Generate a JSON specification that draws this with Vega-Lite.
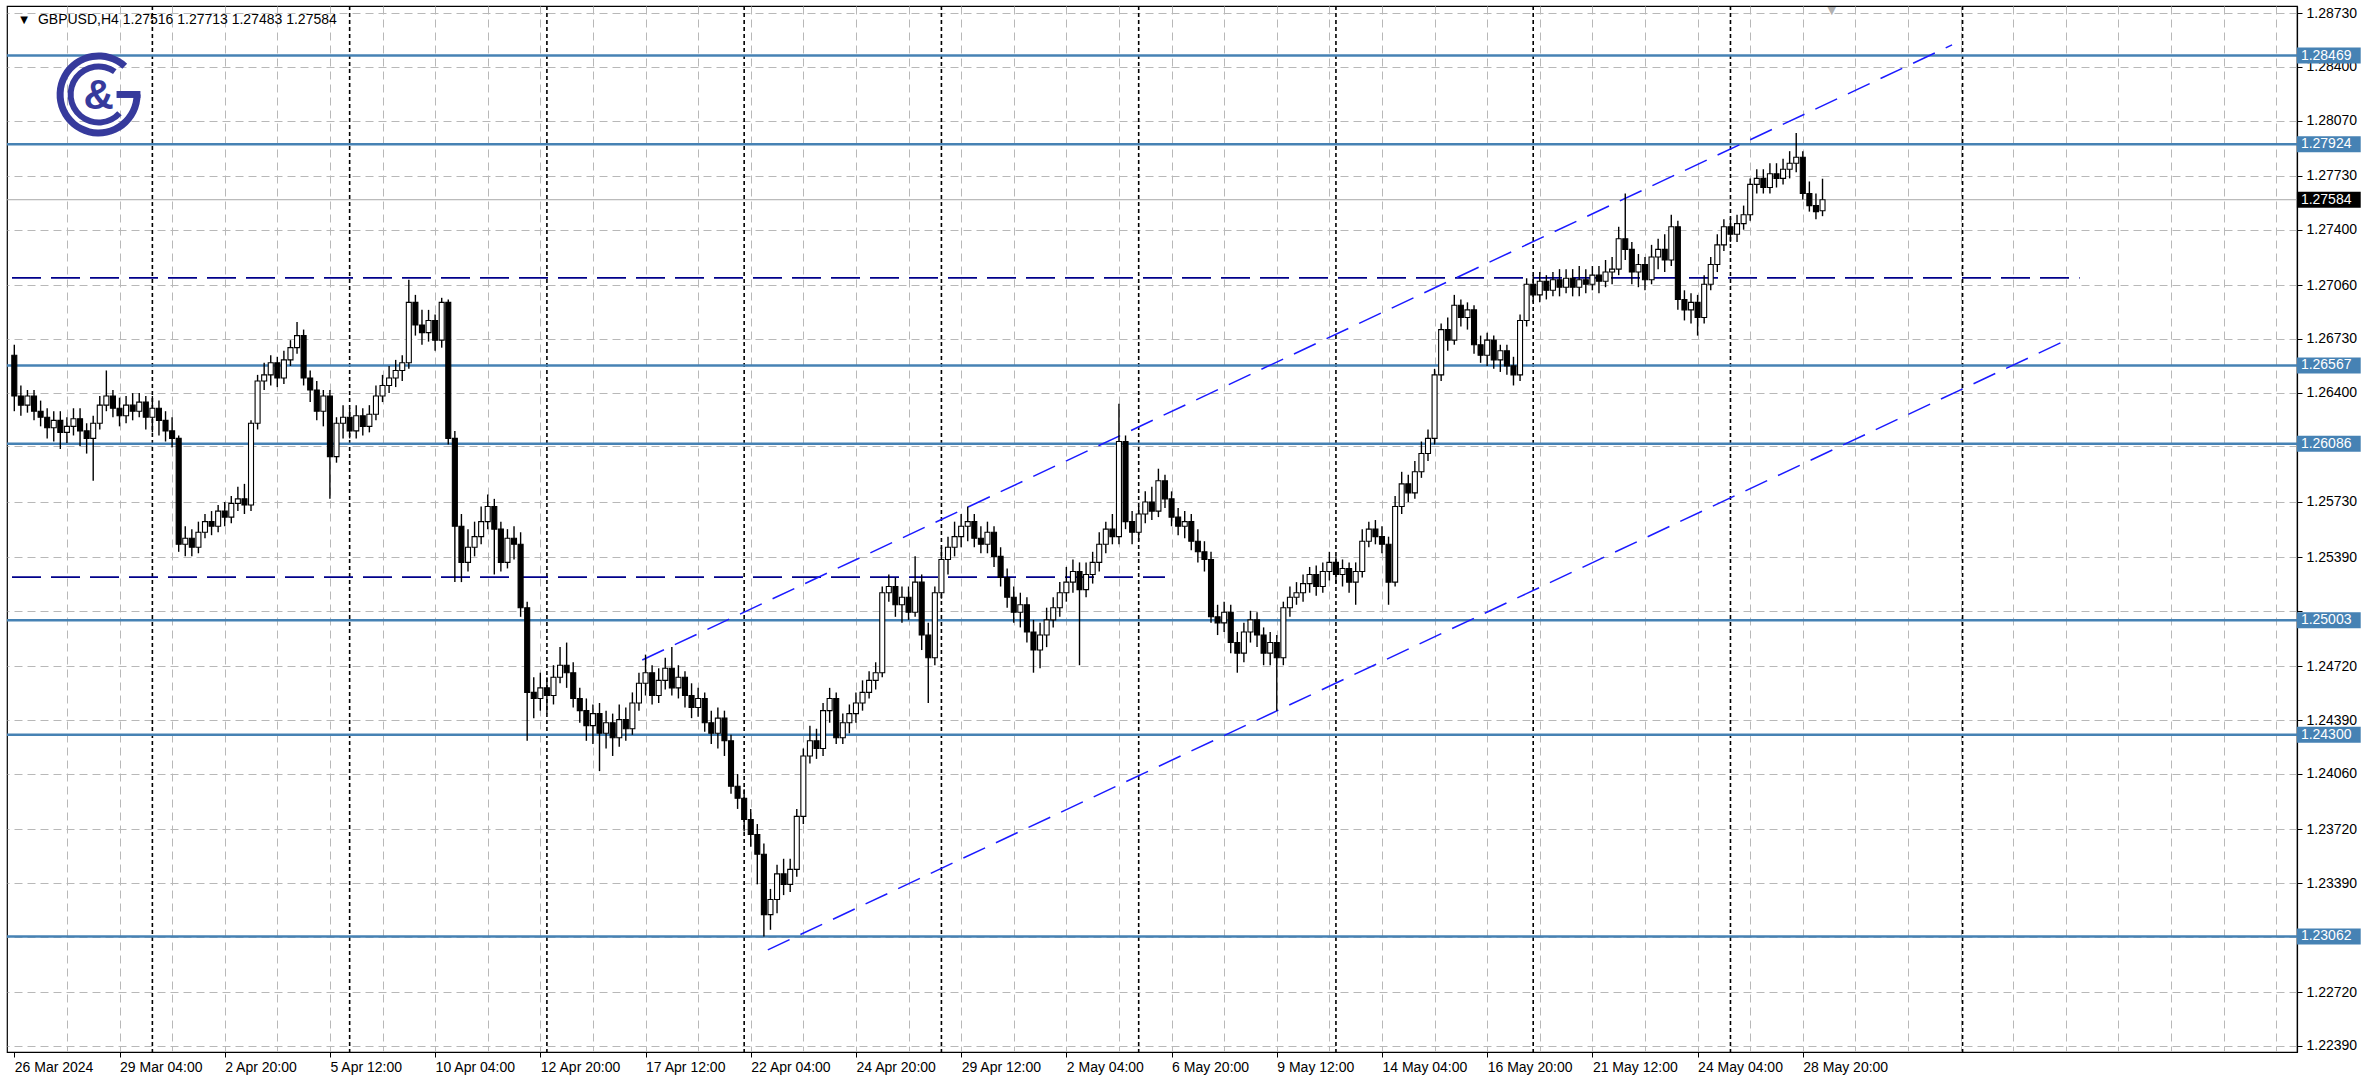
{
"$schema": "https://vega.github.io/schema/vega-lite/v6.json",
"width": 2290,
"height": 1046,
"autosize": "none",
"padding": {"left": 7, "top": 6, "right": 75, "bottom": 37},
"background": "white",
"config": {"view": {"stroke": "#000000", "strokeWidth": 1.2}, "font": "Liberation Sans"},
"datasets": {
"candles": [
{"i":0,"o":1.26629,"h":1.26694,"l":1.26286,"c":1.26379},
{"i":1,"o":1.26379,"h":1.26444,"l":1.26258,"c":1.26323},
{"i":2,"o":1.26323,"h":1.26416,"l":1.26277,"c":1.26379},
{"i":3,"o":1.26379,"h":1.26416,"l":1.2623,"c":1.26286},
{"i":4,"o":1.26286,"h":1.26351,"l":1.26193,"c":1.26249},
{"i":5,"o":1.26249,"h":1.26304,"l":1.26119,"c":1.26184},
{"i":6,"o":1.26184,"h":1.26286,"l":1.261,"c":1.2623},
{"i":7,"o":1.2623,"h":1.26286,"l":1.26054,"c":1.26156},
{"i":8,"o":1.26156,"h":1.26249,"l":1.26091,"c":1.26193},
{"i":9,"o":1.26193,"h":1.26304,"l":1.26137,"c":1.2624},
{"i":10,"o":1.2624,"h":1.26304,"l":1.26072,"c":1.26165},
{"i":11,"o":1.26165,"h":1.26212,"l":1.26026,"c":1.26119},
{"i":12,"o":1.26119,"h":1.26258,"l":1.25859,"c":1.26212},
{"i":13,"o":1.26212,"h":1.26379,"l":1.26174,"c":1.26323},
{"i":14,"o":1.26323,"h":1.26536,"l":1.26286,"c":1.26379},
{"i":15,"o":1.26379,"h":1.26416,"l":1.26249,"c":1.26304},
{"i":16,"o":1.26304,"h":1.26369,"l":1.26193,"c":1.26258},
{"i":17,"o":1.26258,"h":1.26379,"l":1.26212,"c":1.26323},
{"i":18,"o":1.26323,"h":1.26397,"l":1.2623,"c":1.26286},
{"i":19,"o":1.26286,"h":1.26397,"l":1.26249,"c":1.26342},
{"i":20,"o":1.26342,"h":1.26379,"l":1.26174,"c":1.26249},
{"i":21,"o":1.26249,"h":1.26379,"l":1.26156,"c":1.26304},
{"i":22,"o":1.26304,"h":1.26351,"l":1.26137,"c":1.2623},
{"i":23,"o":1.2623,"h":1.26286,"l":1.261,"c":1.26165},
{"i":24,"o":1.26165,"h":1.26249,"l":1.26063,"c":1.26119},
{"i":25,"o":1.26119,"h":1.26137,"l":1.25423,"c":1.25469},
{"i":26,"o":1.25469,"h":1.2558,"l":1.25395,"c":1.25506},
{"i":27,"o":1.25506,"h":1.25562,"l":1.25395,"c":1.25451},
{"i":28,"o":1.25451,"h":1.25608,"l":1.25414,"c":1.25543},
{"i":29,"o":1.25543,"h":1.25655,"l":1.25506,"c":1.25608},
{"i":30,"o":1.25608,"h":1.25673,"l":1.25525,"c":1.2558},
{"i":31,"o":1.2558,"h":1.2571,"l":1.25543,"c":1.25673},
{"i":32,"o":1.25673,"h":1.25729,"l":1.2558,"c":1.25636},
{"i":33,"o":1.25636,"h":1.25766,"l":1.25599,"c":1.2572},
{"i":34,"o":1.2572,"h":1.25822,"l":1.25673,"c":1.25748},
{"i":35,"o":1.25748,"h":1.2584,"l":1.25655,"c":1.2571},
{"i":36,"o":1.2571,"h":1.2623,"l":1.25673,"c":1.26212},
{"i":37,"o":1.26212,"h":1.26509,"l":1.26174,"c":1.26471},
{"i":38,"o":1.26471,"h":1.26583,"l":1.26416,"c":1.26509},
{"i":39,"o":1.26509,"h":1.26629,"l":1.26444,"c":1.26583},
{"i":40,"o":1.26583,"h":1.2662,"l":1.26434,"c":1.2649},
{"i":41,"o":1.2649,"h":1.26657,"l":1.26453,"c":1.26601},
{"i":42,"o":1.26601,"h":1.26722,"l":1.26564,"c":1.26676},
{"i":43,"o":1.26676,"h":1.26833,"l":1.26639,"c":1.2675},
{"i":44,"o":1.2675,"h":1.26787,"l":1.26444,"c":1.2649},
{"i":45,"o":1.2649,"h":1.26536,"l":1.26342,"c":1.26416},
{"i":46,"o":1.26416,"h":1.26471,"l":1.2623,"c":1.26286},
{"i":47,"o":1.26286,"h":1.26416,"l":1.26193,"c":1.26379},
{"i":48,"o":1.26379,"h":1.26416,"l":1.25748,"c":1.26007},
{"i":49,"o":1.26007,"h":1.26249,"l":1.2597,"c":1.26212},
{"i":50,"o":1.26212,"h":1.26323,"l":1.26119,"c":1.26249},
{"i":51,"o":1.26249,"h":1.26304,"l":1.26119,"c":1.26165},
{"i":52,"o":1.26165,"h":1.26323,"l":1.26119,"c":1.26258},
{"i":53,"o":1.26258,"h":1.26304,"l":1.26137,"c":1.26193},
{"i":54,"o":1.26193,"h":1.26323,"l":1.26156,"c":1.26267},
{"i":55,"o":1.26267,"h":1.26444,"l":1.2623,"c":1.26379},
{"i":56,"o":1.26379,"h":1.26509,"l":1.26342,"c":1.26444},
{"i":57,"o":1.26444,"h":1.26564,"l":1.26397,"c":1.2649},
{"i":58,"o":1.2649,"h":1.26601,"l":1.26434,"c":1.26536},
{"i":59,"o":1.26536,"h":1.26629,"l":1.26471,"c":1.26583},
{"i":60,"o":1.26583,"h":1.27093,"l":1.26546,"c":1.26954},
{"i":61,"o":1.26954,"h":1.27,"l":1.2675,"c":1.26815},
{"i":62,"o":1.26815,"h":1.26908,"l":1.26694,"c":1.26768},
{"i":63,"o":1.26768,"h":1.26908,"l":1.26713,"c":1.26843},
{"i":64,"o":1.26843,"h":1.2688,"l":1.26657,"c":1.26722},
{"i":65,"o":1.26722,"h":1.26982,"l":1.26676,"c":1.26954},
{"i":66,"o":1.26954,"h":1.26972,"l":1.26082,"c":1.26119},
{"i":67,"o":1.26119,"h":1.26165,"l":1.25237,"c":1.2558},
{"i":68,"o":1.2558,"h":1.25655,"l":1.25237,"c":1.25358},
{"i":69,"o":1.25358,"h":1.25562,"l":1.25302,"c":1.25451},
{"i":70,"o":1.25451,"h":1.25608,"l":1.25395,"c":1.25516},
{"i":71,"o":1.25516,"h":1.25701,"l":1.25469,"c":1.25608},
{"i":72,"o":1.25608,"h":1.25775,"l":1.25562,"c":1.25701},
{"i":73,"o":1.25701,"h":1.25748,"l":1.25284,"c":1.25562},
{"i":74,"o":1.25562,"h":1.25608,"l":1.25302,"c":1.25358},
{"i":75,"o":1.25358,"h":1.25562,"l":1.25321,"c":1.25506},
{"i":76,"o":1.25506,"h":1.2558,"l":1.25376,"c":1.25469},
{"i":77,"o":1.25469,"h":1.25543,"l":1.25024,"c":1.2508},
{"i":78,"o":1.2508,"h":1.25117,"l":1.24263,"c":1.2456},
{"i":79,"o":1.2456,"h":1.24653,"l":1.24402,"c":1.24523},
{"i":80,"o":1.24523,"h":1.24681,"l":1.24448,"c":1.24588},
{"i":81,"o":1.24588,"h":1.24653,"l":1.2443,"c":1.24541},
{"i":82,"o":1.24541,"h":1.24727,"l":1.24486,"c":1.24653},
{"i":83,"o":1.24653,"h":1.24838,"l":1.24616,"c":1.24727},
{"i":84,"o":1.24727,"h":1.24866,"l":1.24588,"c":1.24681},
{"i":85,"o":1.24681,"h":1.24745,"l":1.24467,"c":1.24523},
{"i":86,"o":1.24523,"h":1.24588,"l":1.24374,"c":1.24448},
{"i":87,"o":1.24448,"h":1.24523,"l":1.24263,"c":1.24356},
{"i":88,"o":1.24356,"h":1.24486,"l":1.24244,"c":1.2443},
{"i":89,"o":1.2443,"h":1.24495,"l":1.24077,"c":1.24309},
{"i":90,"o":1.24309,"h":1.24448,"l":1.24216,"c":1.24374},
{"i":91,"o":1.24374,"h":1.2443,"l":1.2417,"c":1.24282},
{"i":92,"o":1.24282,"h":1.24486,"l":1.24226,"c":1.24393},
{"i":93,"o":1.24393,"h":1.24467,"l":1.24263,"c":1.24337},
{"i":94,"o":1.24337,"h":1.2456,"l":1.243,"c":1.24495},
{"i":95,"o":1.24495,"h":1.24681,"l":1.24448,"c":1.24616},
{"i":96,"o":1.24616,"h":1.24792,"l":1.24541,"c":1.24681},
{"i":97,"o":1.24681,"h":1.24727,"l":1.24486,"c":1.24541},
{"i":98,"o":1.24541,"h":1.24708,"l":1.24495,"c":1.24634},
{"i":99,"o":1.24634,"h":1.24773,"l":1.24578,"c":1.24708},
{"i":100,"o":1.24708,"h":1.24838,"l":1.24541,"c":1.24588},
{"i":101,"o":1.24588,"h":1.24727,"l":1.24523,"c":1.24653},
{"i":102,"o":1.24653,"h":1.2469,"l":1.24467,"c":1.24541},
{"i":103,"o":1.24541,"h":1.24616,"l":1.24402,"c":1.24467},
{"i":104,"o":1.24467,"h":1.24588,"l":1.24411,"c":1.24523},
{"i":105,"o":1.24523,"h":1.2456,"l":1.24319,"c":1.24374},
{"i":106,"o":1.24374,"h":1.24448,"l":1.24244,"c":1.24309},
{"i":107,"o":1.24309,"h":1.24467,"l":1.24216,"c":1.24402},
{"i":108,"o":1.24402,"h":1.24448,"l":1.2417,"c":1.24263},
{"i":109,"o":1.24263,"h":1.243,"l":1.23938,"c":1.23984},
{"i":110,"o":1.23984,"h":1.24059,"l":1.23845,"c":1.2391},
{"i":111,"o":1.2391,"h":1.23966,"l":1.23706,"c":1.2378},
{"i":112,"o":1.2378,"h":1.23845,"l":1.23613,"c":1.23688},
{"i":113,"o":1.23688,"h":1.23752,"l":1.23382,"c":1.23567},
{"i":114,"o":1.23567,"h":1.23632,"l":1.23062,"c":1.23196},
{"i":115,"o":1.23196,"h":1.23354,"l":1.23103,"c":1.23289},
{"i":116,"o":1.23289,"h":1.23502,"l":1.23205,"c":1.23446},
{"i":117,"o":1.23446,"h":1.23539,"l":1.23316,"c":1.23382},
{"i":118,"o":1.23382,"h":1.23539,"l":1.23335,"c":1.23474},
{"i":119,"o":1.23474,"h":1.23845,"l":1.23428,"c":1.23799},
{"i":120,"o":1.23799,"h":1.24216,"l":1.23752,"c":1.2417},
{"i":121,"o":1.2417,"h":1.24356,"l":1.24124,"c":1.24263},
{"i":122,"o":1.24263,"h":1.24337,"l":1.24152,"c":1.24216},
{"i":123,"o":1.24216,"h":1.24495,"l":1.2417,"c":1.24448},
{"i":124,"o":1.24448,"h":1.24588,"l":1.24374,"c":1.24523},
{"i":125,"o":1.24523,"h":1.2456,"l":1.24244,"c":1.24282},
{"i":126,"o":1.24282,"h":1.2443,"l":1.24244,"c":1.24374},
{"i":127,"o":1.24374,"h":1.24486,"l":1.24309,"c":1.2443},
{"i":128,"o":1.2443,"h":1.2456,"l":1.24374,"c":1.24495},
{"i":129,"o":1.24495,"h":1.24634,"l":1.24448,"c":1.2456},
{"i":130,"o":1.2456,"h":1.2469,"l":1.24523,"c":1.24634},
{"i":131,"o":1.24634,"h":1.24745,"l":1.24578,"c":1.24681},
{"i":132,"o":1.24681,"h":1.2521,"l":1.24653,"c":1.25172},
{"i":133,"o":1.25172,"h":1.25284,"l":1.25117,"c":1.2521},
{"i":134,"o":1.2521,"h":1.25265,"l":1.25024,"c":1.25098},
{"i":135,"o":1.25098,"h":1.2521,"l":1.24987,"c":1.25144},
{"i":136,"o":1.25144,"h":1.2521,"l":1.25005,"c":1.25052},
{"i":137,"o":1.25052,"h":1.25395,"l":1.25024,"c":1.25237},
{"i":138,"o":1.25237,"h":1.25284,"l":1.2482,"c":1.24912},
{"i":139,"o":1.24912,"h":1.24987,"l":1.24495,"c":1.24773},
{"i":140,"o":1.24773,"h":1.2521,"l":1.24727,"c":1.25172},
{"i":141,"o":1.25172,"h":1.25451,"l":1.25135,"c":1.25376},
{"i":142,"o":1.25376,"h":1.25516,"l":1.25284,"c":1.25451},
{"i":143,"o":1.25451,"h":1.25608,"l":1.25395,"c":1.25516},
{"i":144,"o":1.25516,"h":1.25655,"l":1.25451,"c":1.2558},
{"i":145,"o":1.2558,"h":1.25701,"l":1.25488,"c":1.25608},
{"i":146,"o":1.25608,"h":1.25655,"l":1.25451,"c":1.25506},
{"i":147,"o":1.25506,"h":1.2558,"l":1.25414,"c":1.25469},
{"i":148,"o":1.25469,"h":1.25608,"l":1.25414,"c":1.25543},
{"i":149,"o":1.25543,"h":1.2558,"l":1.2533,"c":1.25395},
{"i":150,"o":1.25395,"h":1.25451,"l":1.2521,"c":1.25265},
{"i":151,"o":1.25265,"h":1.25321,"l":1.2508,"c":1.25144},
{"i":152,"o":1.25144,"h":1.2521,"l":1.24987,"c":1.25052},
{"i":153,"o":1.25052,"h":1.25172,"l":1.24959,"c":1.25098},
{"i":154,"o":1.25098,"h":1.25144,"l":1.24866,"c":1.24931},
{"i":155,"o":1.24931,"h":1.25005,"l":1.24681,"c":1.2482},
{"i":156,"o":1.2482,"h":1.24987,"l":1.24708,"c":1.24912},
{"i":157,"o":1.24912,"h":1.2508,"l":1.24838,"c":1.25005},
{"i":158,"o":1.25005,"h":1.25144,"l":1.24959,"c":1.2508},
{"i":159,"o":1.2508,"h":1.25237,"l":1.25024,"c":1.25172},
{"i":160,"o":1.25172,"h":1.2533,"l":1.25117,"c":1.25237},
{"i":161,"o":1.25237,"h":1.25376,"l":1.25172,"c":1.25302},
{"i":162,"o":1.25302,"h":1.25358,"l":1.24727,"c":1.25191},
{"i":163,"o":1.25191,"h":1.25358,"l":1.25144,"c":1.25284},
{"i":164,"o":1.25284,"h":1.25423,"l":1.25228,"c":1.25358},
{"i":165,"o":1.25358,"h":1.25543,"l":1.25302,"c":1.25469},
{"i":166,"o":1.25469,"h":1.25608,"l":1.25414,"c":1.25562},
{"i":167,"o":1.25562,"h":1.25655,"l":1.25469,"c":1.25516},
{"i":168,"o":1.25516,"h":1.26332,"l":1.25469,"c":1.261},
{"i":169,"o":1.261,"h":1.26137,"l":1.25562,"c":1.25608},
{"i":170,"o":1.25608,"h":1.25673,"l":1.25469,"c":1.25543},
{"i":171,"o":1.25543,"h":1.25701,"l":1.25488,"c":1.25655},
{"i":172,"o":1.25655,"h":1.25794,"l":1.25599,"c":1.25729},
{"i":173,"o":1.25729,"h":1.25822,"l":1.25618,"c":1.25673},
{"i":174,"o":1.25673,"h":1.25933,"l":1.25636,"c":1.25859},
{"i":175,"o":1.25859,"h":1.25896,"l":1.25692,"c":1.25748},
{"i":176,"o":1.25748,"h":1.25794,"l":1.2558,"c":1.25636},
{"i":177,"o":1.25636,"h":1.25692,"l":1.25525,"c":1.2558},
{"i":178,"o":1.2558,"h":1.25673,"l":1.25506,"c":1.25608},
{"i":179,"o":1.25608,"h":1.25655,"l":1.25432,"c":1.25488},
{"i":180,"o":1.25488,"h":1.25562,"l":1.25358,"c":1.25423},
{"i":181,"o":1.25423,"h":1.25488,"l":1.25302,"c":1.25376},
{"i":182,"o":1.25376,"h":1.25423,"l":1.24987,"c":1.25024},
{"i":183,"o":1.25024,"h":1.25098,"l":1.24912,"c":1.24987},
{"i":184,"o":1.24987,"h":1.25117,"l":1.24931,"c":1.25052},
{"i":185,"o":1.25052,"h":1.25098,"l":1.24801,"c":1.24866},
{"i":186,"o":1.24866,"h":1.24931,"l":1.24681,"c":1.24801},
{"i":187,"o":1.24801,"h":1.24987,"l":1.24745,"c":1.24931},
{"i":188,"o":1.24931,"h":1.25061,"l":1.24866,"c":1.25005},
{"i":189,"o":1.25005,"h":1.25052,"l":1.24838,"c":1.24912},
{"i":190,"o":1.24912,"h":1.24959,"l":1.24727,"c":1.24801},
{"i":191,"o":1.24801,"h":1.24931,"l":1.24727,"c":1.24866},
{"i":192,"o":1.24866,"h":1.24912,"l":1.24448,"c":1.24773},
{"i":193,"o":1.24773,"h":1.25117,"l":1.24727,"c":1.2508},
{"i":194,"o":1.2508,"h":1.2521,"l":1.25024,"c":1.25144},
{"i":195,"o":1.25144,"h":1.25237,"l":1.25098,"c":1.25172},
{"i":196,"o":1.25172,"h":1.25284,"l":1.25117,"c":1.25228},
{"i":197,"o":1.25228,"h":1.2533,"l":1.25172,"c":1.25284},
{"i":198,"o":1.25284,"h":1.25339,"l":1.25154,"c":1.2521},
{"i":199,"o":1.2521,"h":1.25358,"l":1.25172,"c":1.25302},
{"i":200,"o":1.25302,"h":1.25423,"l":1.25247,"c":1.25358},
{"i":201,"o":1.25358,"h":1.25395,"l":1.25228,"c":1.25284},
{"i":202,"o":1.25284,"h":1.25376,"l":1.2521,"c":1.25321},
{"i":203,"o":1.25321,"h":1.25358,"l":1.25172,"c":1.25237},
{"i":204,"o":1.25237,"h":1.25358,"l":1.25098,"c":1.25302},
{"i":205,"o":1.25302,"h":1.25562,"l":1.25265,"c":1.25488},
{"i":206,"o":1.25488,"h":1.25608,"l":1.25451,"c":1.25562},
{"i":207,"o":1.25562,"h":1.25618,"l":1.25469,"c":1.25516},
{"i":208,"o":1.25516,"h":1.2558,"l":1.25414,"c":1.25469},
{"i":209,"o":1.25469,"h":1.25516,"l":1.25098,"c":1.25237},
{"i":210,"o":1.25237,"h":1.25766,"l":1.2521,"c":1.25701},
{"i":211,"o":1.25701,"h":1.25914,"l":1.25655,"c":1.2584},
{"i":212,"o":1.2584,"h":1.25896,"l":1.25729,"c":1.25785},
{"i":213,"o":1.25785,"h":1.2598,"l":1.25748,"c":1.25914},
{"i":214,"o":1.25914,"h":1.261,"l":1.25877,"c":1.26026},
{"i":215,"o":1.26026,"h":1.26174,"l":1.2598,"c":1.26119},
{"i":216,"o":1.26119,"h":1.26546,"l":1.26082,"c":1.26509},
{"i":217,"o":1.26509,"h":1.26824,"l":1.26471,"c":1.26787},
{"i":218,"o":1.26787,"h":1.26861,"l":1.26657,"c":1.26722},
{"i":219,"o":1.26722,"h":1.27,"l":1.26694,"c":1.26936},
{"i":220,"o":1.26936,"h":1.26972,"l":1.26806,"c":1.26861},
{"i":221,"o":1.26861,"h":1.26954,"l":1.26787,"c":1.26908},
{"i":222,"o":1.26908,"h":1.26936,"l":1.26639,"c":1.26694},
{"i":223,"o":1.26694,"h":1.2675,"l":1.26583,"c":1.26629},
{"i":224,"o":1.26629,"h":1.26768,"l":1.26564,"c":1.26722},
{"i":225,"o":1.26722,"h":1.2675,"l":1.26546,"c":1.26601},
{"i":226,"o":1.26601,"h":1.26694,"l":1.26527,"c":1.26657},
{"i":227,"o":1.26657,"h":1.26694,"l":1.26509,"c":1.26564},
{"i":228,"o":1.26564,"h":1.2662,"l":1.26444,"c":1.26509},
{"i":229,"o":1.26509,"h":1.2688,"l":1.26471,"c":1.26843},
{"i":230,"o":1.26843,"h":1.27102,"l":1.26806,"c":1.27065},
{"i":231,"o":1.27065,"h":1.27121,"l":1.26954,"c":1.27},
{"i":232,"o":1.27,"h":1.2714,"l":1.26954,"c":1.27084},
{"i":233,"o":1.27084,"h":1.27121,"l":1.26972,"c":1.27028},
{"i":234,"o":1.27028,"h":1.2714,"l":1.26991,"c":1.27093},
{"i":235,"o":1.27093,"h":1.27158,"l":1.26991,"c":1.27047},
{"i":236,"o":1.27047,"h":1.27158,"l":1.2701,"c":1.27102},
{"i":237,"o":1.27102,"h":1.27158,"l":1.26991,"c":1.27047},
{"i":238,"o":1.27047,"h":1.27177,"l":1.26991,"c":1.27093},
{"i":239,"o":1.27093,"h":1.27158,"l":1.2701,"c":1.27065},
{"i":240,"o":1.27065,"h":1.27177,"l":1.27028,"c":1.27121},
{"i":241,"o":1.27121,"h":1.27177,"l":1.2701,"c":1.27084},
{"i":242,"o":1.27084,"h":1.27214,"l":1.27047,"c":1.2714},
{"i":243,"o":1.2714,"h":1.27232,"l":1.27065,"c":1.27158},
{"i":244,"o":1.27158,"h":1.27418,"l":1.27121,"c":1.27344},
{"i":245,"o":1.27344,"h":1.27622,"l":1.27214,"c":1.27279},
{"i":246,"o":1.27279,"h":1.27325,"l":1.27065,"c":1.2714},
{"i":247,"o":1.2714,"h":1.27251,"l":1.27047,"c":1.27186},
{"i":248,"o":1.27186,"h":1.27232,"l":1.27028,"c":1.27093},
{"i":249,"o":1.27093,"h":1.27307,"l":1.27065,"c":1.27232},
{"i":250,"o":1.27232,"h":1.27344,"l":1.27158,"c":1.27279},
{"i":251,"o":1.27279,"h":1.27372,"l":1.2714,"c":1.27214},
{"i":252,"o":1.27214,"h":1.27492,"l":1.27177,"c":1.27418},
{"i":253,"o":1.27418,"h":1.27455,"l":1.26908,"c":1.26972},
{"i":254,"o":1.26972,"h":1.27028,"l":1.26843,"c":1.26908},
{"i":255,"o":1.26908,"h":1.2701,"l":1.26824,"c":1.26954},
{"i":256,"o":1.26954,"h":1.27,"l":1.2675,"c":1.26861},
{"i":257,"o":1.26861,"h":1.27121,"l":1.26824,"c":1.27065},
{"i":258,"o":1.27065,"h":1.27232,"l":1.27028,"c":1.27186},
{"i":259,"o":1.27186,"h":1.27372,"l":1.2714,"c":1.27307},
{"i":260,"o":1.27307,"h":1.27464,"l":1.2727,"c":1.27418},
{"i":261,"o":1.27418,"h":1.27474,"l":1.27325,"c":1.27372},
{"i":262,"o":1.27372,"h":1.27492,"l":1.27325,"c":1.27437},
{"i":263,"o":1.27437,"h":1.27548,"l":1.274,"c":1.27492},
{"i":264,"o":1.27492,"h":1.27715,"l":1.27455,"c":1.27678},
{"i":265,"o":1.27678,"h":1.27771,"l":1.27622,"c":1.27715},
{"i":266,"o":1.27715,"h":1.27771,"l":1.27622,"c":1.27659},
{"i":267,"o":1.27659,"h":1.27808,"l":1.27622,"c":1.27743},
{"i":268,"o":1.27743,"h":1.27808,"l":1.27659,"c":1.27715},
{"i":269,"o":1.27715,"h":1.27836,"l":1.27678,"c":1.27771},
{"i":270,"o":1.27771,"h":1.27882,"l":1.27715,"c":1.27808},
{"i":271,"o":1.27808,"h":1.27994,"l":1.27752,"c":1.27845},
{"i":272,"o":1.27845,"h":1.27882,"l":1.27585,"c":1.27622},
{"i":273,"o":1.27622,"h":1.27696,"l":1.27511,"c":1.27548},
{"i":274,"o":1.27548,"h":1.27622,"l":1.27464,"c":1.27511},
{"i":275,"o":1.27516,"h":1.27713,"l":1.27483,"c":1.27584}
],
"levels": [
{"p":1.28469,"t":"1.28469"},{"p":1.27924,"t":"1.27924"},{"p":1.26567,"t":"1.26567"},{"p":1.26086,"t":"1.26086"},{"p":1.25003,"t":"1.25003"},{"p":1.243,"t":"1.24300"},{"p":1.23062,"t":"1.23062"}
],
"hlines": [
{"x1":-0.35,"x2":314.1,"p":1.27104},
{"x1":-0.35,"x2":175,"p":1.25268}
],
"channel": [
{"x1":95.5,"p1":1.24759,"x2":294.7,"p2":1.28534},
{"x1":114.6,"p1":1.2298,"x2":312.6,"p2":1.26732}
],
"seps": [{"i":21},{"i":51},{"i":81},{"i":111},{"i":141},{"i":171},{"i":201},{"i":231},{"i":261},{"i":296.3}],
"bid": [{"p":1.27584,"t":"1.27584"}],
"info": [{"t":"GBPUSD,H4  1.27516 1.27713 1.27483 1.27584"}],
"logo": [{"i":12.82,"p":1.2823}]
},
"layer": [
{
"data": {"name": "seps"},
"mark": {"type": "rule", "color": "#000000", "strokeWidth": 1.6, "strokeDash": [4, 3]},
"encoding": {
"x": {"field": "i", "type": "quantitative",
"scale": {"domain": [-0.35, 346.4], "nice": false, "zero": false},
"axis": {"orient": "bottom", "zindex": 0,
"values": [0,8,16,24,32,40,48,56,64,72,80,88,96,104,112,120,128,136,144,152,160,168,176,184,192,200,208,216,224,232,240,248,256,264,272,280,288,296,304,312,320,328,336,344],
"labelExpr": "(datum.value % 16 === 0 && datum.value <= 272) ? ['26 Mar 2024','29 Mar 04:00','2 Apr 20:00','5 Apr 12:00','10 Apr 04:00','12 Apr 20:00','17 Apr 12:00','22 Apr 04:00','24 Apr 20:00','29 Apr 12:00','2 May 04:00','6 May 20:00','9 May 12:00','14 May 04:00','16 May 20:00','21 May 12:00','24 May 04:00','28 May 20:00'][datum.value / 16] : ''",
"labelAlign": "left", "labelBaseline": "top", "labelPadding": 3, "labelFontSize": 14, "labelFont": "Liberation Sans", "labelColor": "#000000",
"labelOverlap": false, "labelFlush": false,
"tickSize": 5, "tickColor": "#000000",
"tickOpacity": {"condition": {"test": "datum.value % 16 === 0 && datum.value <= 272", "value": 1}, "value": 0},
"domain": true, "domainColor": "#000000", "domainWidth": 1.2,
"grid": true, "gridColor": "#b8b8b8", "gridDash": [8, 5], "gridWidth": 1,
"gridOpacity": {"condition": {"test": "datum.value === 0", "value": 0}, "value": 1},
"title": null}}
}
},
{
"data": {"name": "levels"},
"mark": {"type": "rule", "color": "#4682b4", "strokeWidth": 2.5},
"encoding": {
"y": {"field": "p", "type": "quantitative",
"scale": {"domain": [1.22353, 1.28773], "nice": false, "zero": false},
"axis": {"orient": "right", "zindex": 0,
"values": [1.2239,1.2272,1.2306,1.2339,1.2372,1.2406,1.2439,1.2472,1.2506,1.2539,1.2573,1.2607,1.264,1.2673,1.2706,1.274,1.2773,1.2807,1.284,1.2873],
"format": ".5f",
"labelExpr": "indexof(['1.23060','1.25060','1.26070'], datum.label) >= 0 ? '' : datum.label",
"labelFontSize": 14, "labelFont": "Liberation Sans", "labelColor": "#000000",
"labelPadding": 4, "labelOverlap": false, "labelFlush": false,
"tickSize": 5, "tickColor": "#000000",
"domain": true, "domainColor": "#000000", "domainWidth": 1.2,
"grid": true, "gridColor": "#b8b8b8", "gridDash": [8, 5], "gridWidth": 1,
"title": null}}
}
},
{
"data": {"name": "bid"},
"mark": {"type": "rule", "color": "#a8a8a8", "strokeWidth": 1},
"encoding": {"y": {"field": "p", "type": "quantitative"}}
},
{
"data": {"name": "hlines"},
"mark": {"type": "rule", "color": "#00008b", "strokeWidth": 1.8, "strokeDash": [29, 10]},
"encoding": {
"x": {"field": "x1", "type": "quantitative"},
"x2": {"field": "x2"},
"y": {"field": "p", "type": "quantitative"}
}
},
{
"data": {"name": "channel"},
"mark": {"type": "rule", "color": "#1a1aff", "strokeWidth": 1.5, "strokeDash": [24, 12]},
"encoding": {
"x": {"field": "x1", "type": "quantitative"},
"x2": {"field": "x2"},
"y": {"field": "p1", "type": "quantitative"},
"y2": {"field": "p2"}
}
},
{
"data": {"name": "candles"},
"mark": {"type": "rule", "color": "#000000", "strokeWidth": 1.4},
"encoding": {
"x": {"field": "i", "type": "quantitative"},
"y": {"field": "l", "type": "quantitative"},
"y2": {"field": "h"}
}
},
{
"data": {"name": "candles"},
"mark": {"type": "bar", "size": 5, "stroke": "#000000", "strokeWidth": 1.1},
"encoding": {
"x": {"field": "i", "type": "quantitative"},
"y": {"field": "o", "type": "quantitative"},
"y2": {"field": "c"},
"fill": {"condition": {"test": "datum.c >= datum.o", "value": "#ffffff"}, "value": "#000000"}
}
},
{
"data": {"name": "levels"},
"mark": {"type": "rule", "color": "#4682b4", "strokeWidth": 16, "strokeCap": "butt"},
"encoding": {
"x": {"datum": 347.15, "type": "quantitative"},
"x2": {"datum": 356.85},
"y": {"field": "p", "type": "quantitative"}
}
},
{
"data": {"name": "levels"},
"mark": {"type": "text", "color": "#ffffff", "fontSize": 14, "font": "Liberation Sans", "align": "left", "baseline": "middle"},
"encoding": {
"x": {"datum": 347.75, "type": "quantitative"},
"y": {"field": "p", "type": "quantitative"},
"text": {"field": "t"}
}
},
{
"data": {"name": "bid"},
"mark": {"type": "rule", "color": "#000000", "strokeWidth": 16, "strokeCap": "butt"},
"encoding": {
"x": {"datum": 347.15, "type": "quantitative"},
"x2": {"datum": 356.85},
"y": {"field": "p", "type": "quantitative"}
}
},
{
"data": {"name": "bid"},
"mark": {"type": "text", "color": "#ffffff", "fontSize": 14, "font": "Liberation Sans", "align": "left", "baseline": "middle"},
"encoding": {
"x": {"datum": 347.75, "type": "quantitative"},
"y": {"field": "p", "type": "quantitative"},
"text": {"field": "t"}
}
},
{
"data": {"name": "info"},
"mark": {"type": "text", "color": "#000000", "fontSize": 14, "font": "Liberation Sans", "align": "left", "baseline": "middle"},
"encoding": {
"x": {"datum": 3.59, "type": "quantitative"},
"y": {"datum": 1.28687, "type": "quantitative"},
"text": {"field": "t"}
}
},
{
"data": {"name": "info"},
"mark": {"type": "text", "color": "#000000", "fontSize": 10, "font": "DejaVu Sans", "align": "center", "baseline": "middle", "text": "▼"},
"encoding": {
"x": {"datum": 1.5, "type": "quantitative"},
"y": {"datum": 1.28687, "type": "quantitative"}
}
},
{
"data": {"name": "info"},
"mark": {"type": "text", "color": "#b0b0b0", "fontSize": 11, "font": "DejaVu Sans", "align": "center", "baseline": "middle", "text": "▼"},
"encoding": {
"x": {"datum": 276.4, "type": "quantitative"},
"y": {"datum": 1.28745, "type": "quantitative"}
}
},
{
"data": {"name": "logo"},
"mark": {"type": "arc", "color": "#363a9c", "radius": 42, "radius2": 35, "theta": 1.5708, "theta2": 7.03},
"encoding": {
"x": {"field": "i", "type": "quantitative"},
"y": {"field": "p", "type": "quantitative"}
}
},
{
"data": {"name": "logo"},
"mark": {"type": "arc", "color": "#363a9c", "radius": 31, "radius2": 25, "theta": 2.3, "theta2": 6.9},
"encoding": {
"x": {"field": "i", "type": "quantitative"},
"y": {"field": "p", "type": "quantitative"}
}
},
{
"data": {"name": "logo"},
"mark": {"type": "rule", "color": "#363a9c", "strokeWidth": 7, "strokeCap": "butt"},
"encoding": {
"x": {"datum": 15.55, "type": "quantitative"},
"x2": {"datum": 19.18},
"y": {"field": "p", "type": "quantitative"}
}
},
{
"data": {"name": "logo"},
"mark": {"type": "text", "color": "#363a9c", "fontSize": 42, "fontWeight": "bold", "font": "Liberation Sans", "align": "center", "baseline": "middle", "text": "&", "dy": 2},
"encoding": {
"x": {"field": "i", "type": "quantitative"},
"y": {"field": "p", "type": "quantitative"}
}
}
]
}
